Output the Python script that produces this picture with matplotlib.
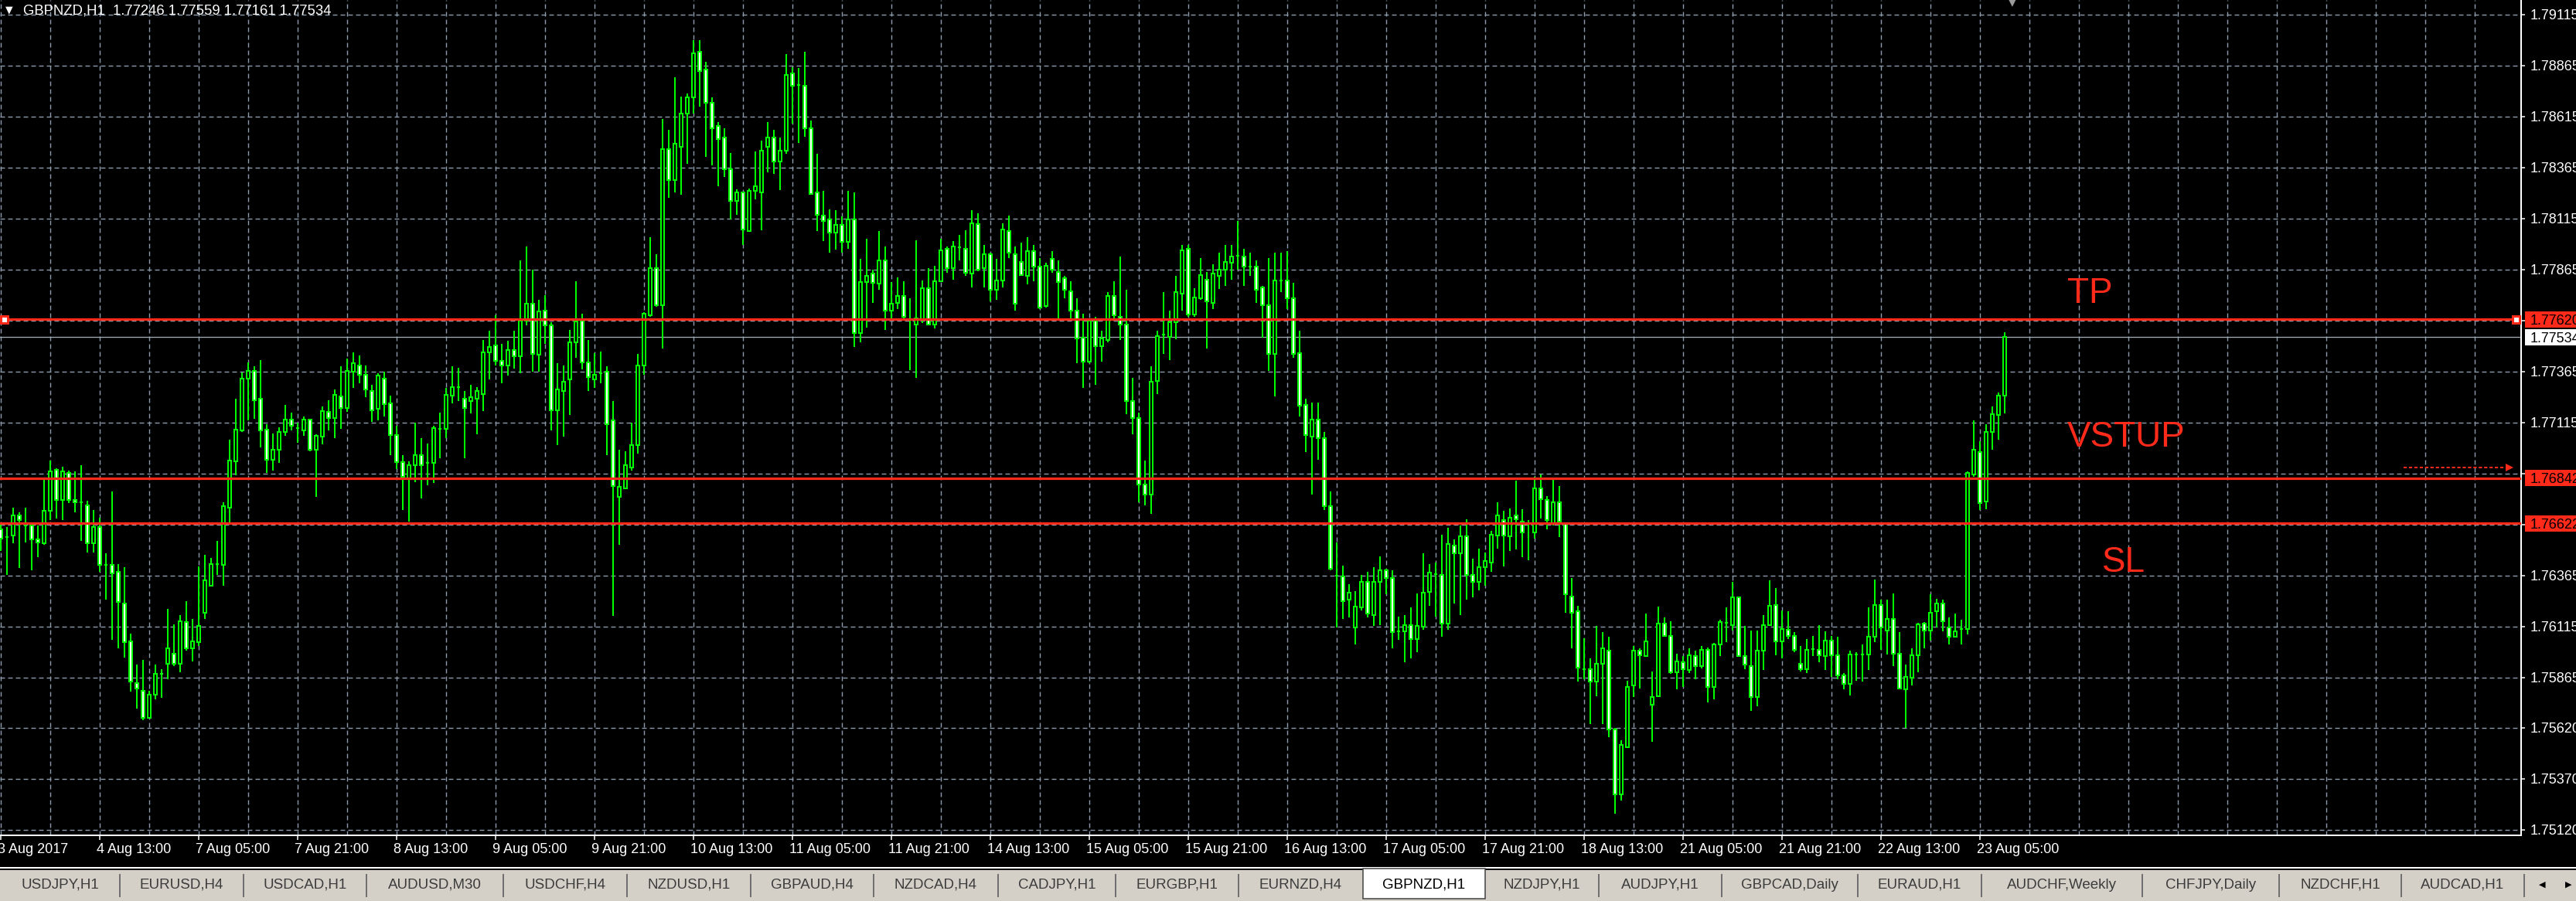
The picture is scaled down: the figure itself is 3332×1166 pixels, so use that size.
#!/usr/bin/env python
"""
GBPNZD H1 candlestick chart in MetaTrader style with TP / entry / SL levels.
"""

import matplotlib
matplotlib.use('Agg')
import matplotlib.pyplot as plt
import matplotlib.transforms as mtransforms
from matplotlib.patches import Rectangle

plt.rcParams['font.family'] = ['Liberation Sans', 'DejaVu Sans']
plt.rcParams['lines.scale_dashes'] = False

# ---------------------------------------------------------------------------
# Data (hourly bars, oldest first; bar 0 = 3 Aug 2017 21:00)
# ---------------------------------------------------------------------------
symbol_name = 'GBPNZD,H1'

open_prices = [
    1.76590, 1.76553, 1.76561, 1.76661, 1.76611, 1.76611, 1.76541, 1.76523, 1.76681, 1.76882,
    1.76736, 1.76869, 1.76736, 1.76724, 1.76711, 1.76523, 1.76603, 1.76418, 1.76418, 1.76382,
    1.76229, 1.76041, 1.75838, 1.75802, 1.75669, 1.75783, 1.75883, 1.75933, 1.75983, 1.75933,
    1.76139, 1.76008, 1.76039, 1.76184, 1.76317, 1.76423, 1.76418, 1.76699, 1.76925, 1.77075,
    1.77331, 1.77369, 1.77231, 1.77080, 1.76932, 1.76980, 1.77068, 1.77130, 1.77088, 1.77075,
    1.77130, 1.76980, 1.77045, 1.77168, 1.77138, 1.77243, 1.77188, 1.77364, 1.77396, 1.77351,
    1.77268, 1.77181, 1.77331, 1.77208, 1.77055, 1.76920, 1.76837, 1.76905, 1.76955, 1.76917,
    1.76917, 1.77083, 1.77083, 1.77246, 1.77289, 1.77231, 1.77221, 1.77231, 1.77256, 1.77459,
    1.77494, 1.77419, 1.77396, 1.77472, 1.77439, 1.77615, 1.77698, 1.77447, 1.77665, 1.77590,
    1.77176, 1.77271, 1.77326, 1.77510, 1.77615, 1.77409, 1.77326, 1.77356, 1.77364, 1.77125,
    1.76749, 1.76794, 1.76894, 1.77005, 1.77396, 1.77640, 1.77873, 1.77690, 1.78456, 1.78305,
    1.78468, 1.78631, 1.78707, 1.78933, 1.78845, 1.78682, 1.78569, 1.78511, 1.78355, 1.78200,
    1.78242, 1.78054, 1.78250, 1.78242, 1.78468, 1.78511, 1.78393, 1.78448, 1.78827, 1.78770,
    1.78764, 1.78556, 1.78242, 1.78129, 1.78112, 1.78047, 1.78084, 1.77999, 1.78112, 1.77552,
    1.77803, 1.77846, 1.77796, 1.77911, 1.77665, 1.77703, 1.77735, 1.77622, 1.77597, 1.77622,
    1.77773, 1.77597, 1.77808, 1.77966, 1.77873, 1.77974, 1.77966, 1.77846, 1.78087, 1.77873,
    1.77941, 1.77765, 1.77811, 1.78054, 1.77941, 1.77903, 1.77833, 1.77954, 1.77878, 1.77685,
    1.77916, 1.77853, 1.77821, 1.77758, 1.77665, 1.77532, 1.77414, 1.77615, 1.77489, 1.77519,
    1.77735, 1.77635, 1.77595, 1.77221, 1.77138, 1.76812, 1.76762, 1.77319, 1.77545, 1.77534,
    1.77607, 1.77748, 1.77966, 1.77645, 1.77723, 1.77816, 1.77703, 1.77833, 1.77866, 1.77899,
    1.77934, 1.77929, 1.77878, 1.77878, 1.77778, 1.77690, 1.77452, 1.77811, 1.77811, 1.77723,
    1.77457, 1.77201, 1.77045, 1.77130, 1.77038, 1.76704, 1.76365, 1.76360, 1.76247, 1.76109,
    1.76209, 1.76335, 1.76172, 1.76335, 1.76390, 1.76352, 1.76091, 1.76091, 1.76122, 1.76054,
    1.76114, 1.76285, 1.76372, 1.76367, 1.76129, 1.76511, 1.76473, 1.76556, 1.76367, 1.76335,
    1.76405, 1.76430, 1.76561, 1.76636, 1.76556, 1.76661, 1.76628, 1.76618, 1.76578, 1.76792,
    1.76736, 1.76623, 1.76724, 1.76618, 1.76264, 1.76189, 1.75908, 1.75908, 1.75845, 1.75933,
    1.75996, 1.75612, 1.75293, 1.75524, 1.75825, 1.75996, 1.75971, 1.75732, 1.75775, 1.76129,
    1.76071, 1.75891, 1.75941, 1.75901, 1.75971, 1.75921, 1.76001, 1.75820, 1.76026, 1.76134,
    1.76122, 1.76259, 1.75971, 1.75921, 1.75770, 1.75996, 1.76122, 1.76222, 1.76041, 1.76101,
    1.76071, 1.75933, 1.75908, 1.76003, 1.76001, 1.75971, 1.76046, 1.75976, 1.75875, 1.75833,
    1.75978, 1.75978, 1.75978, 1.76064, 1.76222, 1.76096, 1.76154, 1.75983, 1.75807, 1.75863,
    1.75976, 1.76129, 1.76096, 1.76192, 1.76227, 1.76109, 1.76064, 1.76104, 1.76104, 1.76862,
    1.76970, 1.76729, 1.77068, 1.77151, 1.77246,
]

high_prices = [
    1.76623, 1.76603, 1.76699, 1.76674, 1.76699, 1.76620, 1.76611, 1.76837, 1.76929, 1.76892,
    1.76899, 1.76879, 1.76874, 1.76905, 1.76731, 1.76686, 1.76649, 1.76473, 1.76779, 1.76423,
    1.76405, 1.76079, 1.75928, 1.75951, 1.75802, 1.75928, 1.75908, 1.76202, 1.76127, 1.76172,
    1.76239, 1.76154, 1.76410, 1.76468, 1.76453, 1.76536, 1.76724, 1.77032, 1.77231, 1.77359,
    1.77409, 1.77389, 1.77422, 1.77105, 1.77063, 1.77093, 1.77201, 1.77163, 1.77113, 1.77143,
    1.77133, 1.77058, 1.77193, 1.77226, 1.77276, 1.77389, 1.77427, 1.77459, 1.77444, 1.77396,
    1.77301, 1.77356, 1.77364, 1.77246, 1.77100, 1.76957, 1.76925, 1.77113, 1.77038, 1.77012,
    1.77100, 1.77163, 1.77284, 1.77389, 1.77384, 1.77268, 1.77301, 1.77289, 1.77519, 1.77564,
    1.77640, 1.77502, 1.77515, 1.77564, 1.77911, 1.77979, 1.77866, 1.77715, 1.77740, 1.77607,
    1.77406, 1.77396, 1.77569, 1.77808, 1.77647, 1.77519, 1.77457, 1.77464, 1.77389, 1.77221,
    1.76980, 1.76975, 1.77113, 1.77452, 1.77657, 1.78024, 1.77941, 1.78601, 1.78549, 1.78807,
    1.78714, 1.78727, 1.78990, 1.78990, 1.78882, 1.78707, 1.78586, 1.78556, 1.78436, 1.78260,
    1.78247, 1.78262, 1.78443, 1.78498, 1.78586, 1.78549, 1.78511, 1.78920, 1.78857, 1.78852,
    1.78933, 1.78594, 1.78431, 1.78250, 1.78159, 1.78154, 1.78124, 1.78250, 1.78242, 1.77916,
    1.78016, 1.77866, 1.78054, 1.77979, 1.77803, 1.77828, 1.77808, 1.77723, 1.78009, 1.77811,
    1.77873, 1.77883, 1.78016, 1.77979, 1.78004, 1.78034, 1.78059, 1.78155, 1.78142, 1.77984,
    1.77949, 1.77916, 1.78092, 1.78129, 1.77979, 1.77996, 1.78024, 1.77986, 1.77921, 1.77899,
    1.77954, 1.77911, 1.77833, 1.77808, 1.77723, 1.77647, 1.77627, 1.77632, 1.77564, 1.77753,
    1.77808, 1.77929, 1.77765, 1.77334, 1.77163, 1.76930, 1.77389, 1.77564, 1.77753, 1.77665,
    1.77833, 1.77986, 1.77986, 1.77773, 1.77921, 1.77853, 1.77891, 1.77946, 1.77986, 1.77984,
    1.78104, 1.77966, 1.77949, 1.77911, 1.77786, 1.77921, 1.77949, 1.77949, 1.77954, 1.77798,
    1.77564, 1.77231, 1.77213, 1.77213, 1.77068, 1.76779, 1.76528, 1.76415, 1.76322, 1.76290,
    1.76367, 1.76385, 1.76405, 1.76460, 1.76398, 1.76392, 1.76164, 1.76172, 1.76209, 1.76277,
    1.76473, 1.76423, 1.76430, 1.76566, 1.76598, 1.76541, 1.76611, 1.76641, 1.76448, 1.76498,
    1.76480, 1.76586, 1.76724, 1.76681, 1.76694, 1.76829, 1.76691, 1.76636, 1.76849, 1.76862,
    1.76754, 1.76837, 1.76804, 1.76623, 1.76352, 1.76217, 1.76059, 1.75958, 1.76117, 1.76089,
    1.76064, 1.75619, 1.75557, 1.75850, 1.76021, 1.76008, 1.76179, 1.75896, 1.76214, 1.76159,
    1.76142, 1.75983, 1.75971, 1.76008, 1.75996, 1.76021, 1.76014, 1.76034, 1.76147, 1.76209,
    1.76335, 1.76264, 1.76117, 1.76096, 1.76096, 1.76172, 1.76340, 1.76305, 1.76194, 1.76189,
    1.76089, 1.76021, 1.76054, 1.76071, 1.76122, 1.76091, 1.76071, 1.76064, 1.75888, 1.75996,
    1.75988, 1.76029, 1.76209, 1.76347, 1.76247, 1.76247, 1.76277, 1.76089, 1.75928, 1.76008,
    1.76134, 1.76139, 1.76272, 1.76252, 1.76247, 1.76159, 1.76179, 1.76147, 1.76874, 1.77125,
    1.77025, 1.77108, 1.77193, 1.77263, 1.77559,
]

low_prices = [
    1.76485, 1.76367, 1.76523, 1.76402, 1.76528, 1.76390, 1.76455, 1.76515, 1.76636, 1.76643,
    1.76636, 1.76719, 1.76674, 1.76536, 1.76478, 1.76478, 1.76385, 1.76247, 1.76051, 1.76008,
    1.75963, 1.75795, 1.75712, 1.75657, 1.75662, 1.75757, 1.75765, 1.75858, 1.75921, 1.75891,
    1.75996, 1.75946, 1.76021, 1.76152, 1.76310, 1.76367, 1.76317, 1.76623, 1.76857, 1.77068,
    1.77125, 1.77133, 1.76992, 1.76869, 1.76879, 1.76917, 1.77050, 1.77075, 1.77017, 1.77050,
    1.76975, 1.76749, 1.77007, 1.77075, 1.77038, 1.77083, 1.77168, 1.77284, 1.77306, 1.77238,
    1.77120, 1.77125, 1.77143, 1.76955, 1.76887, 1.76686, 1.76628, 1.76824, 1.76744, 1.76807,
    1.76819, 1.76942, 1.77038, 1.77208, 1.77221, 1.76942, 1.77158, 1.77058, 1.77171, 1.77326,
    1.77394, 1.77306, 1.77346, 1.77381, 1.77356, 1.77590, 1.77364, 1.77364, 1.77502, 1.77075,
    1.77005, 1.77045, 1.77151, 1.77434, 1.77376, 1.77271, 1.77284, 1.77309, 1.76955, 1.76167,
    1.76515, 1.76794, 1.76880, 1.76962, 1.77351, 1.77632, 1.77683, 1.77477, 1.78217, 1.78242,
    1.78230, 1.78385, 1.78631, 1.78662, 1.78418, 1.78375, 1.78272, 1.78318, 1.78112, 1.78134,
    1.77984, 1.78054, 1.78210, 1.78059, 1.78343, 1.78335, 1.78255, 1.78431, 1.78581, 1.78486,
    1.78514, 1.78230, 1.78054, 1.78004, 1.77949, 1.77961, 1.77949, 1.77966, 1.77484, 1.77510,
    1.77582, 1.77703, 1.77765, 1.77569, 1.77615, 1.77673, 1.77627, 1.77371, 1.77334, 1.77602,
    1.77590, 1.77577, 1.77803, 1.77848, 1.77816, 1.77909, 1.77833, 1.77778, 1.77858, 1.77778,
    1.77710, 1.77715, 1.77778, 1.77921, 1.77665, 1.77833, 1.77791, 1.77808, 1.77670, 1.77678,
    1.77848, 1.77622, 1.77723, 1.77622, 1.77406, 1.77284, 1.77406, 1.77301, 1.77414, 1.77509,
    1.77615, 1.77519, 1.77156, 1.77058, 1.76724, 1.76711, 1.76666, 1.77256, 1.77452, 1.77422,
    1.77522, 1.77665, 1.77635, 1.77635, 1.77715, 1.77477, 1.77670, 1.77768, 1.77783, 1.77816,
    1.77866, 1.77783, 1.77833, 1.77703, 1.77532, 1.77369, 1.77243, 1.77753, 1.77670, 1.77432,
    1.77143, 1.76970, 1.76762, 1.76932, 1.76686, 1.76392, 1.76109, 1.76152, 1.76159, 1.76029,
    1.76194, 1.76159, 1.76117, 1.76122, 1.76272, 1.76008, 1.76051, 1.75941, 1.75958, 1.75988,
    1.76101, 1.76217, 1.76164, 1.76064, 1.76101, 1.76227, 1.76172, 1.76247, 1.76259, 1.76292,
    1.76317, 1.76385, 1.76498, 1.76410, 1.76485, 1.76493, 1.76455, 1.76440, 1.76548, 1.76643,
    1.76593, 1.76611, 1.76553, 1.76184, 1.76008, 1.75845, 1.75858, 1.75639, 1.75775, 1.75639,
    1.75574, 1.75198, 1.75261, 1.75519, 1.75770, 1.75812, 1.75966, 1.75550, 1.75770, 1.76064,
    1.75883, 1.75807, 1.75820, 1.75888, 1.75858, 1.75911, 1.75745, 1.75757, 1.75971, 1.76039,
    1.76096, 1.75966, 1.75908, 1.75702, 1.75725, 1.75901, 1.76117, 1.75976, 1.75958, 1.76054,
    1.75991, 1.75896, 1.75888, 1.75971, 1.75941, 1.75903, 1.75870, 1.75858, 1.75807, 1.75777,
    1.75850, 1.75845, 1.75901, 1.76039, 1.76001, 1.75978, 1.75921, 1.75807, 1.75619, 1.75825,
    1.75891, 1.76008, 1.76046, 1.76109, 1.76091, 1.76029, 1.76062, 1.76029, 1.76076, 1.76849,
    1.76686, 1.76691, 1.76980, 1.77032, 1.77161,
]

close_prices = [
    1.76548, 1.76553, 1.76661, 1.76636, 1.76611, 1.76541, 1.76528, 1.76681, 1.76874, 1.76736,
    1.76874, 1.76736, 1.76724, 1.76724, 1.76523, 1.76603, 1.76418, 1.76418, 1.76377, 1.76234,
    1.76039, 1.75845, 1.75812, 1.75669, 1.75783, 1.75883, 1.75883, 1.76008, 1.75933, 1.76142,
    1.76008, 1.76041, 1.76117, 1.76340, 1.76423, 1.76423, 1.76706, 1.76930, 1.77080, 1.77331,
    1.77369, 1.77226, 1.77075, 1.76932, 1.76980, 1.77070, 1.77130, 1.77100, 1.77088, 1.77130,
    1.76980, 1.77050, 1.77171, 1.77138, 1.77251, 1.77188, 1.77369, 1.77406, 1.77351, 1.77276,
    1.77176, 1.77346, 1.77206, 1.77055, 1.76920, 1.76849, 1.76905, 1.76955, 1.76905, 1.76917,
    1.77088, 1.77083, 1.77251, 1.77289, 1.77289, 1.77188, 1.77238, 1.77268, 1.77459, 1.77484,
    1.77419, 1.77396, 1.77472, 1.77439, 1.77615, 1.77698, 1.77452, 1.77660, 1.77590, 1.77176,
    1.77276, 1.77314, 1.77510, 1.77610, 1.77409, 1.77339, 1.77351, 1.77356, 1.77105, 1.76804,
    1.76799, 1.76905, 1.77005, 1.77396, 1.77647, 1.77873, 1.77690, 1.78456, 1.78305, 1.78481,
    1.78631, 1.78707, 1.78925, 1.78837, 1.78682, 1.78556, 1.78506, 1.78355, 1.78200, 1.78242,
    1.78062, 1.78250, 1.78272, 1.78448, 1.78511, 1.78393, 1.78448, 1.78820, 1.78764, 1.78770,
    1.78556, 1.78235, 1.78134, 1.78104, 1.78047, 1.78084, 1.77999, 1.78112, 1.77552, 1.77803,
    1.77833, 1.77798, 1.77911, 1.77665, 1.77698, 1.77735, 1.77632, 1.77622, 1.77627, 1.77773,
    1.77597, 1.77808, 1.77959, 1.77873, 1.77979, 1.77974, 1.77848, 1.78092, 1.77866, 1.77941,
    1.77765, 1.77811, 1.78062, 1.77946, 1.77698, 1.77836, 1.77954, 1.77878, 1.77678, 1.77883,
    1.77866, 1.77803, 1.77765, 1.77665, 1.77527, 1.77414, 1.77615, 1.77489, 1.77527, 1.77735,
    1.77640, 1.77595, 1.77221, 1.77138, 1.76812, 1.76762, 1.77314, 1.77539, 1.77545, 1.77607,
    1.77753, 1.77959, 1.77645, 1.77728, 1.77836, 1.77708, 1.77846, 1.77866, 1.77903, 1.77929,
    1.77934, 1.77878, 1.77878, 1.77765, 1.77690, 1.77452, 1.77811, 1.77811, 1.77723, 1.77452,
    1.77196, 1.77055, 1.77130, 1.77038, 1.76704, 1.76398, 1.76365, 1.76239, 1.76280, 1.76214,
    1.76335, 1.76179, 1.76335, 1.76390, 1.76352, 1.76089, 1.76091, 1.76122, 1.76054, 1.76117,
    1.76280, 1.76380, 1.76372, 1.76129, 1.76518, 1.76473, 1.76556, 1.76367, 1.76335, 1.76405,
    1.76435, 1.76566, 1.76661, 1.76561, 1.76649, 1.76641, 1.76578, 1.76618, 1.76792, 1.76741,
    1.76636, 1.76724, 1.76628, 1.76272, 1.76184, 1.75913, 1.75908, 1.75845, 1.75933, 1.76008,
    1.75612, 1.75293, 1.75537, 1.75820, 1.75996, 1.75976, 1.76041, 1.75770, 1.76129, 1.76071,
    1.75891, 1.75946, 1.75908, 1.75976, 1.75921, 1.76001, 1.75820, 1.76026, 1.76139, 1.76134,
    1.76259, 1.75971, 1.75928, 1.75770, 1.75996, 1.76122, 1.76217, 1.76041, 1.76104, 1.76071,
    1.76001, 1.75908, 1.76001, 1.76003, 1.75976, 1.76046, 1.75976, 1.75875, 1.75833, 1.75978,
    1.75978, 1.75978, 1.76064, 1.76222, 1.76109, 1.76154, 1.75983, 1.75812, 1.75870, 1.75976,
    1.76127, 1.76096, 1.76184, 1.76229, 1.76142, 1.76064, 1.76091, 1.76104, 1.76867, 1.76980,
    1.76719, 1.77070, 1.77156, 1.77246, 1.77534,
]

# time scale: one label every 16 bars
time_label_bars = [0, 16, 32, 48, 64, 80, 96, 112, 128, 144, 160,
                   176, 192, 208, 224, 240, 256, 272, 288, 304, 320]
time_labels = ['3 Aug 2017', '4 Aug 13:00', '7 Aug 05:00', '7 Aug 21:00',
               '8 Aug 13:00', '9 Aug 05:00', '9 Aug 21:00', '10 Aug 13:00',
               '11 Aug 05:00', '11 Aug 21:00', '14 Aug 13:00', '15 Aug 05:00',
               '15 Aug 21:00', '16 Aug 13:00', '17 Aug 05:00', '17 Aug 21:00',
               '18 Aug 13:00', '21 Aug 05:00', '21 Aug 21:00', '22 Aug 13:00',
               '23 Aug 05:00']

# price scale
price_ticks = [1.79115, 1.78865, 1.78615, 1.78365, 1.78115, 1.77865, 1.77615,
               1.77365, 1.77115, 1.76865, 1.76615, 1.76365, 1.76115, 1.75865,
               1.75620, 1.75370, 1.75120]
price_tick_labels = ['1.79115', '1.78865', '1.78615', '1.78365', '1.78115',
                     '1.77865', '', '1.77365', '1.77115', '', '',
                     '1.76365', '1.76115', '1.75865', '1.75620', '1.75370',
                     '1.75120']

# trade levels
tp_price = 1.77620
entry_price = 1.76842
sl_price = 1.76622
bid_price = 1.77534
level_names = ['TP', 'VSTUP', 'SL']
level_text_anchor = [(334.1, 1.77701), (334.1, 1.76997), (339.75, 1.76383)]
pending_arrow_price = 1.76895

# terminal tabs
tab_names = ['USDJPY,H1', 'EURUSD,H4', 'USDCAD,H1', 'AUDUSD,M30', 'USDCHF,H4',
             'NZDUSD,H1', 'GBPAUD,H4', 'NZDCAD,H4', 'CADJPY,H1', 'EURGBP,H1',
             'EURNZD,H4', 'GBPNZD,H1', 'NZDJPY,H1', 'AUDJPY,H1', 'GBPCAD,Daily',
             'EURAUD,H1', 'AUDCHF,Weekly', 'CHFJPY,Daily', 'NZDCHF,H1', 'AUDCAD,H1']
active_tab = 'GBPNZD,H1'

# ---------------------------------------------------------------------------
# Layout (pixels)
# ---------------------------------------------------------------------------
W, H, DPI = 3332, 1166, 100
PLOT_RIGHT = 3261
PLOT_BOTTOM = 1081
BAR_PX = 8
tab_edges = [0, 155, 315, 474, 651, 811, 971, 1130, 1291, 1443, 1602, 1763,
             1921, 2068, 2227, 2403, 2563, 2771, 2948, 3106, 3265]

GREEN = '#00ff00'
RED = '#ff2a1a'
GRID = '#8c9aab'
BID_GRAY = '#a3abb5'
TAB_BG = '#d4d0c8'


def px(v):
    """Pixels to points."""
    return v * 72.0 / DPI


def draw_candles(ax):
    """Wicks plus hollow (up) / white (down) bodies."""
    idx = list(range(len(close_prices)))
    tops = [max(h, o, c) for h, o, c in zip(high_prices, open_prices, close_prices)]
    bots = [min(l, o, c) for l, o, c in zip(low_prices, open_prices, close_prices)]
    ax.vlines(idx, bots, tops, colors=GREEN, linewidth=px(2.0), zorder=2)

    bottoms = [min(o, c) for o, c in zip(open_prices, close_prices)]
    heights = [abs(c - o) for o, c in zip(open_prices, close_prices)]
    fills = ['black' if c >= o else 'white' for o, c in zip(open_prices, close_prices)]
    ax.bar(idx, heights, bottom=bottoms, width=0.5, color=fills,
           edgecolor=GREEN, linewidth=px(2.0), zorder=3)


def style_axes(ax):
    ax.set_facecolor('black')
    ax.set_xlim(-1.0 / BAR_PX, (PLOT_RIGHT - 1.0) / BAR_PX)
    ax.set_ylim(1.75092, 1.79186)

    # grid: every 8 bars / every price tick
    ax.set_xticks(time_label_bars)
    ax.set_xticks(range(0, 401, 8), minor=True)
    ax.set_yticks(price_ticks)
    ax.set_yticklabels(price_tick_labels)
    ax.grid(True, which='both', axis='x', color=GRID, linestyle=(0, (4.3, 2.9)),
            linewidth=px(1.4))
    ax.grid(True, which='major', axis='y', color=GRID, linestyle=(0, (4.3, 2.9)),
            linewidth=px(1.4))
    ax.set_axisbelow(True)

    for side in ('top', 'left'):
        ax.spines[side].set_visible(False)
    for side in ('right', 'bottom'):
        ax.spines[side].set_color('white')
        ax.spines[side].set_linewidth(px(2))

    ax.yaxis.tick_right()
    ax.tick_params(axis='y', colors='white', length=px(5), width=px(1.5),
                   labelsize=13, pad=px(7))
    ax.tick_params(axis='x', which='major', colors='white', length=px(6),
                   width=px(1.5), labelbottom=False)
    ax.tick_params(axis='x', which='minor', length=0, labelbottom=False)

    # time labels, starting just left of their tick
    trans = mtransforms.blended_transform_factory(ax.transData, ax.transAxes)
    off = mtransforms.ScaledTranslation(-4.0 / DPI, -18.0 / DPI, ax.figure.dpi_scale_trans)
    for bar, text in zip(time_label_bars, time_labels):
        ax.text(bar, 0, text, transform=trans + off, color='white', fontsize=13,
                ha='left', va='center', clip_on=False)


def draw_levels(ax):
    """Order lines, their price boxes and the text labels."""
    ax.axhline(bid_price, color=BID_GRAY, linewidth=px(1.3), zorder=1.8)
    for price in (tp_price, entry_price, sl_price):
        ax.axhline(price, color=RED, linewidth=px(3.2), zorder=4)

    # TP end markers
    ax.plot([0.44, 406.6], [tp_price, tp_price], linestyle='none', marker='s',
            markersize=px(9), markerfacecolor='white', markeredgecolor=RED,
            markeredgewidth=px(3), zorder=5, clip_on=False)

    # pending-order arrow near the entry level
    ax.plot([388.5, 405.3], [pending_arrow_price] * 2, color=RED,
            linestyle=(0, (3, 2)), linewidth=px(2), zorder=4)
    ax.plot([405.6], [pending_arrow_price], marker='>', markersize=px(10),
            color=RED, markeredgewidth=0, zorder=4)

    # boxes on the price scale
    box_tr = mtransforms.blended_transform_factory(ax.transAxes, ax.transData)
    box_h = 21.0 * (1.79186 - 1.75092) / PLOT_BOTTOM
    x0 = 1 + 5.0 / PLOT_RIGHT
    for price, fc in ((tp_price, RED), (bid_price, 'white'),
                      (entry_price, RED), (sl_price, RED)):
        ax.add_patch(Rectangle((x0, price - box_h / 2), 0.05, box_h, transform=box_tr,
                               facecolor=fc, edgecolor='none', clip_on=False, zorder=6))
        ax.text(1 + 12.0 / PLOT_RIGHT, price, f'{price:.5f}', transform=box_tr,
                color='black', fontsize=13, ha='left', va='center_baseline',
                clip_on=False, zorder=7)

    for name, (bx, by) in zip(level_names, level_text_anchor):
        ax.text(bx, by, name, color=RED, fontsize=33, ha='left', va='baseline',
                zorder=5)


def draw_chrome(fig):
    """Title line, chart-shift mark and the tab bar, in pixel coordinates."""
    ui = fig.add_axes([0, 0, 1, 1], zorder=5)
    ui.set_xlim(0, W)
    ui.set_ylim(H, 0)
    ui.axis('off')
    ui.patch.set_alpha(0)

    ui.text(12, 13, '\u25bc', color='white', fontsize=9, ha='center', va='center',
            family='DejaVu Sans')
    ui.text(30, 14, f'{symbol_name}  1.77246 1.77559 1.77161 1.77534',
            color='white', fontsize=13.3, ha='left', va='center')
    ui.text(2603, 3, '\u25bc', color='#9a9a9a', fontsize=11, ha='center', va='center',
            family='DejaVu Sans')

    # tab bar
    ui.add_patch(Rectangle((0, 1122), W, 2, facecolor='white', edgecolor='none'))
    ui.add_patch(Rectangle((0, 1126), W, H - 1126, facecolor=TAB_BG, edgecolor='none'))
    for k, name in enumerate(tab_names):
        left, right = tab_edges[k], tab_edges[k + 1]
        if name == active_tab:
            ui.add_patch(Rectangle((left, 1124), right - left, 39, facecolor='white',
                                   edgecolor='#404040', linewidth=px(1.5)))
            color = 'black'
        else:
            if k > 0 and tab_names[k - 1] != active_tab:
                ui.plot([left, left], [1132, 1160], color='#707070', linewidth=px(2))
            color = '#3c3c3c'
        ui.text((left + right) / 2, 1145, name, color=color, fontsize=13.5,
                ha='center', va='center')
    ui.plot([tab_edges[-1], tab_edges[-1]], [1132, 1160], color='#707070', linewidth=px(2))
    ui.text(3288, 1145, '\u25c0', color='black', fontsize=8, ha='center', va='center',
            family='DejaVu Sans')
    ui.text(3322, 1145, '\u25b6', color='black', fontsize=8, ha='center', va='center',
            family='DejaVu Sans')


def main():
    fig = plt.figure(figsize=(W / DPI, H / DPI), dpi=DPI, facecolor='black')
    ax = fig.add_axes([0, 1 - PLOT_BOTTOM / H, PLOT_RIGHT / W, PLOT_BOTTOM / H])
    style_axes(ax)
    draw_candles(ax)
    draw_levels(ax)
    draw_chrome(fig)
    fig.savefig('out.png', dpi=DPI, facecolor='black')
    plt.close(fig)


if __name__ == '__main__':
    main()
